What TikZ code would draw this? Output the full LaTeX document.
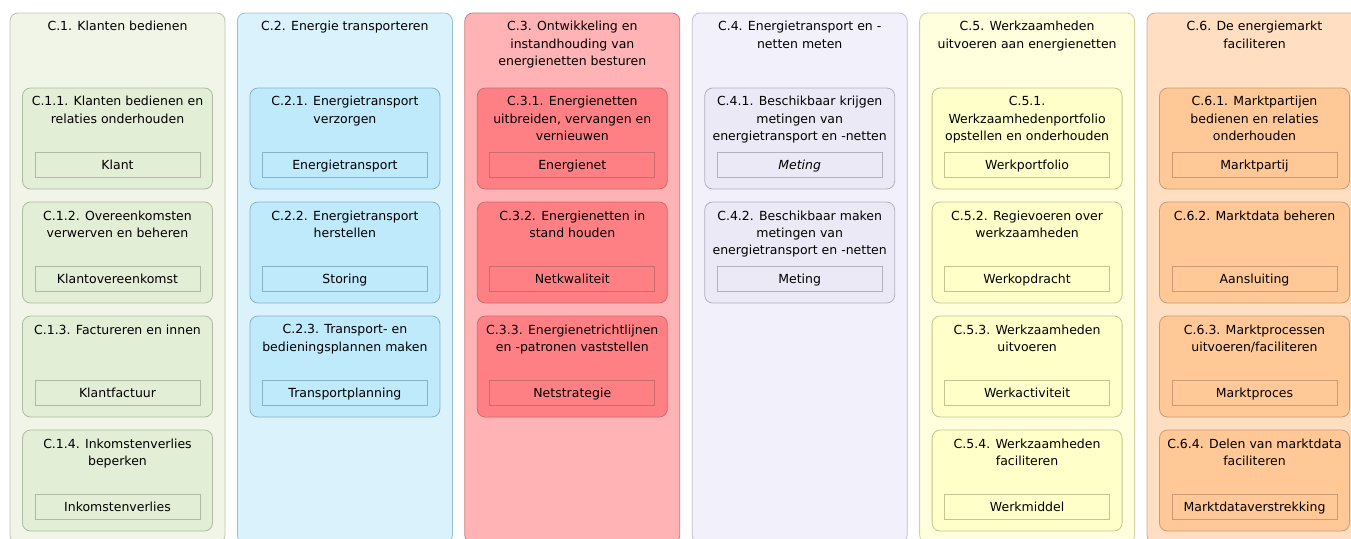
\documentclass[tikz,border=0pt]{standalone}
\usepackage{fontspec}
\setmainfont{DejaVu Sans}
\usetikzlibrary{positioning}
\definecolor{klantbg}{RGB}{240,245,232}
\definecolor{klantin}{RGB}{227,238,214}
\definecolor{klantln}{RGB}{175,186,162}
\definecolor{transbg}{RGB}{218,242,252}
\definecolor{transin}{RGB}{190,234,252}
\definecolor{transln}{RGB}{136,178,198}
\definecolor{netbg}{RGB}{255,179,181}
\definecolor{netin}{RGB}{255,128,132}
\definecolor{netln}{RGB}{200,108,110}
\definecolor{meetbg}{RGB}{242,241,251}
\definecolor{meetin}{RGB}{235,233,246}
\definecolor{meetln}{RGB}{178,176,192}
\definecolor{werkbg}{RGB}{255,255,221}
\definecolor{werkin}{RGB}{255,255,201}
\definecolor{werkln}{RGB}{196,196,146}
\definecolor{marktbg}{RGB}{255,222,193}
\definecolor{marktin}{RGB}{255,200,150}
\definecolor{marktln}{RGB}{200,156,116}

\begin{document}
\begin{tikzpicture}[x=1pt, y=-1pt,
        colbox/.style={rectangle, rounded corners=8pt, line width=0.8pt, anchor=north west, minimum width=215pt, minimum height=530pt, inner sep=0pt, outer sep=0pt},
        coltitle/.style={anchor=north, inner sep=0pt, align=center, font=\fontsize{12.5}{17.3}\selectfont},
        funcbox/.style={rectangle, rounded corners=8pt, line width=0.8pt, anchor=north, minimum width=190pt, minimum height=101pt, inner sep=0pt, outer sep=0pt},
        objbox/.style={rectangle, line width=0.8pt, minimum width=165pt, minimum height=25pt, inner sep=0pt, text height=9.5pt, text depth=0.5pt, font=\fontsize{12.5}{17}\selectfont},
        klant/.style={fill=klantin, draw=klantln},
        trans/.style={fill=transin, draw=transln},
        net/.style={fill=netin, draw=netln},
        meet/.style={fill=meetin, draw=meetln},
        werk/.style={fill=werkin, draw=werkln},
        markt/.style={fill=marktin, draw=marktln}
    ]
        \useasboundingbox (0,0) rectangle (1351,538);
        \clip (0,0) rectangle (1351,538);

        % columns
        \node[colbox, fill=klantbg, draw=klantln!80!klantbg] (c1) at (10,13) {};
        \node[colbox, fill=transbg, draw=transln!80!transbg, right=12.4pt of c1] (c2) {};
        \node[colbox, fill=netbg, draw=netln!80!netbg, right=12.4pt of c2] (c3) {};
        \node[colbox, fill=meetbg, draw=meetln!80!meetbg, right=12.4pt of c3] (c4) {};
        \node[colbox, fill=werkbg, draw=werkln!80!werkbg, right=12.4pt of c4] (c5) {};
        \node[colbox, fill=marktbg, draw=marktln!80!marktbg, right=12.4pt of c5] (c6) {};

        \node[coltitle] (t1) at ([yshift=-8.3pt]c1.north) {C.1. Klanten bedienen};
        \node[coltitle] (t2) at ([yshift=-8.3pt]c2.north) {C.2. Energie transporteren};
        \node[coltitle] (t3) at ([yshift=-8.3pt]c3.north) {C.3. Ontwikkeling en\\instandhouding van\\energienetten besturen};
        \node[coltitle] (t4) at ([yshift=-8.3pt]c4.north) {C.4. Energietransport en -\\netten meten};
        \node[coltitle] (t5) at ([yshift=-8.3pt]c5.north) {C.5. Werkzaamheden\\uitvoeren aan energienetten};
        \node[coltitle] (t6) at ([yshift=-8.3pt]c6.north) {C.6. De energiemarkt\\faciliteren};

        % C.1
        \node[funcbox, klant] (f11) at ([yshift=-75pt]c1.north) {};
        \node[funcbox, klant, below=13pt of f11] (f12) {};
        \node[funcbox, klant, below=13pt of f12] (f13) {};
        \node[funcbox, klant, below=13pt of f13] (f14) {};
        \node[coltitle] (t11) at ([yshift=-8.3pt]f11.north) {C.1.1. Klanten bedienen en\\relaties onderhouden};
        \node[coltitle] (t12) at ([yshift=-8.3pt]f12.north) {C.1.2. Overeenkomsten\\verwerven en beheren};
        \node[coltitle] (t13) at ([yshift=-8.3pt]f13.north) {C.1.3. Factureren en innen};
        \node[coltitle] (t14) at ([yshift=-8.3pt]f14.north) {C.1.4. Inkomstenverlies\\beperken};
        \node[objbox, klant] (o11) at ([yshift=-76.5pt]f11.north) {Klant};
        \node[objbox, klant] (o12) at ([yshift=-76.5pt]f12.north) {Klantovereenkomst};
        \node[objbox, klant] (o13) at ([yshift=-76.5pt]f13.north) {Klantfactuur};
        \node[objbox, klant] (o14) at ([yshift=-76.5pt]f14.north) {Inkomstenverlies};

        % C.2
        \node[funcbox, trans] (f21) at ([yshift=-75pt]c2.north) {};
        \node[funcbox, trans, below=13pt of f21] (f22) {};
        \node[funcbox, trans, below=13pt of f22] (f23) {};
        \node[coltitle] (t21) at ([yshift=-8.3pt]f21.north) {C.2.1. Energietransport\\verzorgen};
        \node[coltitle] (t22) at ([yshift=-8.3pt]f22.north) {C.2.2. Energietransport\\herstellen};
        \node[coltitle] (t23) at ([yshift=-8.3pt]f23.north) {C.2.3. Transport- en\\bedieningsplannen maken};
        \node[objbox, trans] (o21) at ([yshift=-76.5pt]f21.north) {Energietransport};
        \node[objbox, trans] (o22) at ([yshift=-76.5pt]f22.north) {Storing};
        \node[objbox, trans] (o23) at ([yshift=-76.5pt]f23.north) {Transportplanning};

        % C.3
        \node[funcbox, net] (f31) at ([yshift=-75pt]c3.north) {};
        \node[funcbox, net, below=13pt of f31] (f32) {};
        \node[funcbox, net, below=13pt of f32] (f33) {};
        \node[coltitle] (t31) at ([yshift=-8.3pt]f31.north) {C.3.1. Energienetten\\uitbreiden, vervangen en\\vernieuwen};
        \node[coltitle] (t32) at ([yshift=-8.3pt]f32.north) {C.3.2. Energienetten in\\stand houden};
        \node[coltitle] (t33) at ([yshift=-8.3pt]f33.north) {C.3.3. Energienetrichtlijnen\\en -patronen vaststellen};
        \node[objbox, net] (o31) at ([yshift=-76.5pt]f31.north) {Energienet};
        \node[objbox, net] (o32) at ([yshift=-76.5pt]f32.north) {Netkwaliteit};
        \node[objbox, net] (o33) at ([yshift=-76.5pt]f33.north) {Netstrategie};

        % C.4
        \node[funcbox, meet] (f41) at ([yshift=-75pt]c4.north) {};
        \node[funcbox, meet, below=13pt of f41] (f42) {};
        \node[coltitle] (t41) at ([yshift=-8.3pt]f41.north) {C.4.1. Beschikbaar krijgen\\metingen van\\energietransport en -netten};
        \node[coltitle] (t42) at ([yshift=-8.3pt]f42.north) {C.4.2. Beschikbaar maken\\metingen van\\energietransport en -netten};
        \node[objbox, meet] (o41) at ([yshift=-76.5pt]f41.north) {\itshape Meting};
        \node[objbox, meet] (o42) at ([yshift=-76.5pt]f42.north) {Meting};

        % C.5
        \node[funcbox, werk] (f51) at ([yshift=-75pt]c5.north) {};
        \node[funcbox, werk, below=13pt of f51] (f52) {};
        \node[funcbox, werk, below=13pt of f52] (f53) {};
        \node[funcbox, werk, below=13pt of f53] (f54) {};
        \node[coltitle] (t51) at ([yshift=-8.3pt]f51.north) {C.5.1.\\Werkzaamhedenportfolio\\opstellen en onderhouden};
        \node[coltitle] (t52) at ([yshift=-8.3pt]f52.north) {C.5.2. Regievoeren over\\werkzaamheden};
        \node[coltitle] (t53) at ([yshift=-8.3pt]f53.north) {C.5.3. Werkzaamheden\\uitvoeren};
        \node[coltitle] (t54) at ([yshift=-8.3pt]f54.north) {C.5.4. Werkzaamheden\\faciliteren};
        \node[objbox, werk] (o51) at ([yshift=-76.5pt]f51.north) {Werkportfolio};
        \node[objbox, werk] (o52) at ([yshift=-76.5pt]f52.north) {Werkopdracht};
        \node[objbox, werk] (o53) at ([yshift=-76.5pt]f53.north) {Werkactiviteit};
        \node[objbox, werk] (o54) at ([yshift=-76.5pt]f54.north) {Werkmiddel};

        % C.6
        \node[funcbox, markt] (f61) at ([yshift=-75pt]c6.north) {};
        \node[funcbox, markt, below=13pt of f61] (f62) {};
        \node[funcbox, markt, below=13pt of f62] (f63) {};
        \node[funcbox, markt, below=13pt of f63] (f64) {};
        \node[coltitle] (t61) at ([yshift=-8.3pt]f61.north) {C.6.1. Marktpartijen\\bedienen en relaties\\onderhouden};
        \node[coltitle] (t62) at ([yshift=-8.3pt]f62.north) {C.6.2. Marktdata beheren};
        \node[coltitle] (t63) at ([yshift=-8.3pt]f63.north) {C.6.3. Marktprocessen\\uitvoeren/faciliteren};
        \node[coltitle] (t64) at ([yshift=-8.3pt]f64.north) {C.6.4. Delen van marktdata\\faciliteren};
        \node[objbox, markt] (o61) at ([yshift=-76.5pt]f61.north) {Marktpartij};
        \node[objbox, markt] (o62) at ([yshift=-76.5pt]f62.north) {Aansluiting};
        \node[objbox, markt] (o63) at ([yshift=-76.5pt]f63.north) {Marktproces};
        \node[objbox, markt] (o64) at ([yshift=-76.5pt]f64.north) {Marktdataverstrekking};
    \end{tikzpicture}
\end{document}
